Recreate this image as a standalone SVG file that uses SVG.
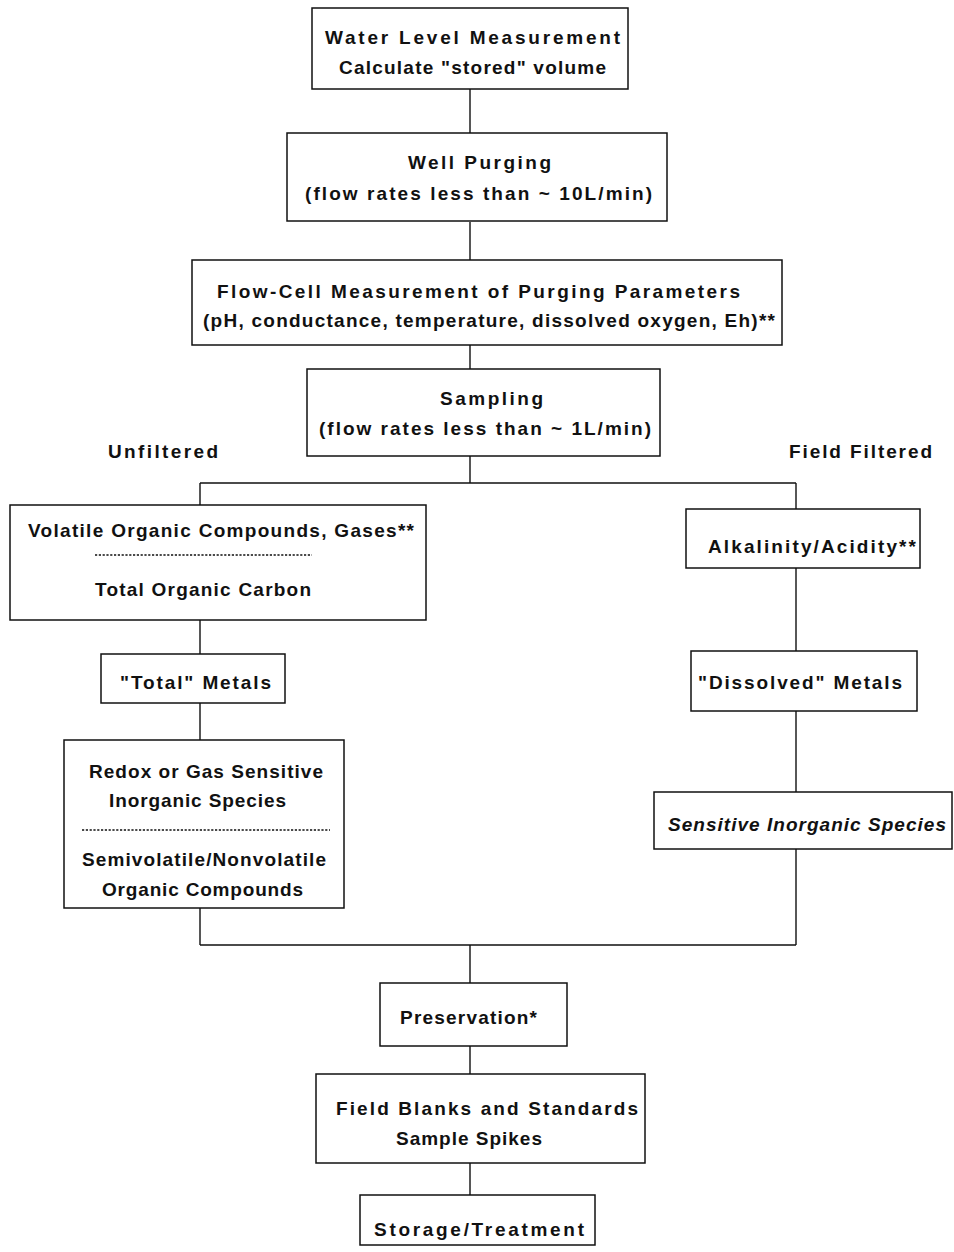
<svg xmlns="http://www.w3.org/2000/svg" width="954" height="1252" viewBox="0 0 954 1252">
<style>
.b{fill:#fff;stroke:#111;stroke-width:1.5}
.c{fill:none;stroke:#111;stroke-width:1.4}
.d{stroke:#111;stroke-width:1.6;stroke-dasharray:2.2 1.6}
text{font-family:"Liberation Sans Narrow","Liberation Sans",Arial,sans-serif;font-weight:bold;font-size:19px;fill:#111}
.i{font-style:italic}
</style>
<rect width="954" height="1252" fill="#fff"/>
<g id="connectors">
<path class="c" d="M470 89V133M470 222V260M470 345V369M470 456V483M200 483H796M200 483V505M796 483V509M200 620V654M200 703V740M796 568V651M796 711V792M796 849V945M200 908V945M200 945H796M470 945V983M470 1046V1074M470 1163V1195"/>
</g>
<g id="water-level"><rect class="b" x="312" y="8" width="316" height="81"/>
<text x="325" y="44" textLength="295" lengthAdjust="spacing">Water Level Measurement</text>
<text x="339" y="74" textLength="267" lengthAdjust="spacing">Calculate "stored" volume</text></g>
<g id="well-purging"><rect class="b" x="287" y="133" width="380" height="88"/>
<text x="408" y="169" textLength="143" lengthAdjust="spacing">Well Purging</text>
<text x="305" y="200" textLength="347" lengthAdjust="spacing">(flow rates less than ~  10L/min)</text></g>
<g id="flow-cell"><rect class="b" x="192" y="260" width="590" height="85"/>
<text x="217" y="298" textLength="523" lengthAdjust="spacing">Flow-Cell Measurement of Purging Parameters</text>
<text x="203" y="327" textLength="572" lengthAdjust="spacing">(pH, conductance, temperature, dissolved oxygen, Eh)**</text></g>
<g id="sampling"><rect class="b" x="307" y="369" width="353" height="87"/>
<text x="440" y="405" textLength="103" lengthAdjust="spacing">Sampling</text>
<text x="319" y="435" textLength="332" lengthAdjust="spacing">(flow rates less than ~  1L/min)</text></g>
<g id="label-unfiltered"><text x="108" y="458" textLength="110" lengthAdjust="spacing">Unfiltered</text></g>
<g id="label-field-filtered"><text x="789" y="458" textLength="143" lengthAdjust="spacing">Field Filtered</text></g>
<g id="voc"><rect class="b" x="10" y="505" width="416" height="115"/>
<text x="28" y="537" textLength="386" lengthAdjust="spacing">Volatile Organic Compounds, Gases**</text>
<line class="d" x1="95" y1="555" x2="312" y2="555"/>
<text x="95" y="596" textLength="216" lengthAdjust="spacing">Total Organic Carbon</text></g>
<g id="alkalinity"><rect class="b" x="686" y="509" width="234" height="59"/>
<text x="708" y="553" textLength="208" lengthAdjust="spacing">Alkalinity/Acidity**</text></g>
<g id="total-metals"><rect class="b" x="101" y="654" width="184" height="49"/>
<text x="120" y="689" textLength="151" lengthAdjust="spacing">"Total" Metals</text></g>
<g id="dissolved-metals"><rect class="b" x="691" y="651" width="226" height="60"/>
<text x="698" y="689" textLength="204" lengthAdjust="spacing">"Dissolved" Metals</text></g>
<g id="redox"><rect class="b" x="64" y="740" width="280" height="168"/>
<text x="89" y="778" textLength="234" lengthAdjust="spacing">Redox or Gas Sensitive</text>
<text x="109" y="807" textLength="177" lengthAdjust="spacing">Inorganic Species</text>
<line class="d" x1="82" y1="830" x2="330" y2="830"/>
<text x="82" y="866" textLength="244" lengthAdjust="spacing">Semivolatile/Nonvolatile</text>
<text x="102" y="896" textLength="201" lengthAdjust="spacing">Organic Compounds</text></g>
<g id="sensitive"><rect class="b" x="654" y="792" width="298" height="57"/>
<text class="i" x="668" y="831" textLength="278" lengthAdjust="spacing">Sensitive Inorganic Species</text></g>
<g id="preservation"><rect class="b" x="380" y="983" width="187" height="63"/>
<text x="400" y="1024" textLength="137" lengthAdjust="spacing">Preservation*</text></g>
<g id="field-blanks"><rect class="b" x="316" y="1074" width="329" height="89"/>
<text x="336" y="1115" textLength="302" lengthAdjust="spacing">Field Blanks and Standards</text>
<text x="396" y="1145" textLength="146" lengthAdjust="spacing">Sample Spikes</text></g>
<g id="storage"><rect class="b" x="360" y="1195" width="235" height="50"/>
<text x="374" y="1236" textLength="210" lengthAdjust="spacing">Storage/Treatment</text></g>
</svg>
